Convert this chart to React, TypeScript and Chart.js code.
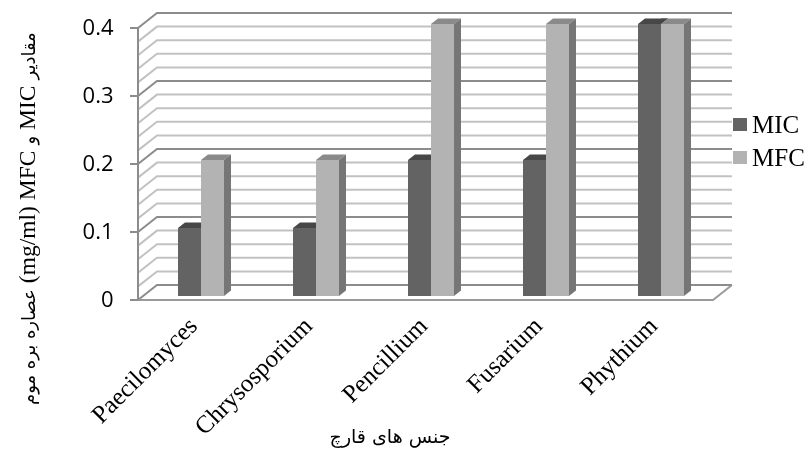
import React, { useEffect, useRef } from "react";
import { Chart, registerables } from "chart.js";

Chart.register(...registerables);

// ---- data ----
const categories = ["Paecilomyces", "Chrysosporium", "Pencillium", "Fusarium", "Phythium"];
const micValues = [0.1, 0.1, 0.2, 0.2, 0.4];
const mfcValues = [0.2, 0.2, 0.4, 0.4, 0.4];
const seriesNames = ["MIC", "MFC"];
const yTickValues = [0, 0.1, 0.2, 0.3, 0.4];
const yMinorStep = 0.02;
// y-axis title pieces, in visual order from bottom to top
const yTitleParts = ["عصاره بره موم", "(mg/ml) MFC", "و", "MIC", "مقادیر"];
const xTitle = "جنس های قارچ";

// ---- style ----
const MIC_FRONT = "#636363";
const MIC_TOP = "#474747";
const MIC_SIDE = "#4f4f4f";
const MFC_FRONT = "#b3b3b3";
const MFC_TOP = "#8a8a8a";
const MFC_SIDE = "#767676";
const MINOR_GRID = "#c2c2c2";
const MAJOR_GRID = "#8c8c8c";
const LATIN_FONT = '"Liberation Serif"';
const ARABIC_FONT = '"DejaVu Sans"';

// 3D offsets relative to the bar plane
const FDX = -5.5, FDY = 4; // front plane
const BDX = 13.5, BDY = -11; // back wall
const DX = 7, DY = -5.5; // bar depth

const isArabic = (s: string) => /[\u0600-\u06FF]/.test(s);

const threeD = {
  id: "threeD",
  beforeDatasetsDraw(chart: any) {
    const { ctx, chartArea } = chart;
    const { left, right } = chartArea;
    const y = chart.scales.y;
    const yMax = yTickValues[yTickValues.length - 1];
    const n = Math.round(yMax / yMinorStep);
    ctx.save();
    ctx.lineCap = "butt";
    for (const pass of [0, 1]) {
      for (let i = 0; i <= n; i++) {
        const v = i * yMinorStep;
        const major = yTickValues.some((t) => Math.abs(t - v) < 1e-9);
        if ((pass === 1) !== major) continue;
        const yy = y.getPixelForValue(v);
        ctx.strokeStyle = major ? MAJOR_GRID : MINOR_GRID;
        ctx.lineWidth = 2;
        ctx.beginPath();
        ctx.moveTo(left + FDX, yy + FDY);
        ctx.lineTo(left + BDX, yy + BDY);
        ctx.lineTo(right + BDX, yy + BDY);
        ctx.stroke();
      }
    }
    const y0 = y.getPixelForValue(0);
    const yTop = y.getPixelForValue(yMax);
    ctx.strokeStyle = "#9a9a9a";
    ctx.lineWidth = 2;
    ctx.beginPath();
    ctx.moveTo(left + FDX, y0 + FDY);
    ctx.lineTo(right + FDX, y0 + FDY);
    ctx.lineTo(right + BDX, y0 + BDY);
    ctx.stroke();
    ctx.strokeStyle = "#8c8c8c";
    ctx.beginPath();
    ctx.moveTo(left + FDX, yTop + FDY);
    ctx.lineTo(left + FDX, y0 + FDY);
    for (const t of yTickValues) {
      const yy = y.getPixelForValue(t);
      ctx.moveTo(left + FDX - 8, yy + FDY);
      ctx.lineTo(left + FDX, yy + FDY);
    }
    ctx.stroke();
    ctx.restore();
  },
  afterDatasetsDraw(chart: any) {
    const { ctx } = chart;
    const W = chart.width, H = chart.height;
    const m0 = chart.getDatasetMeta(0);
    const m1 = chart.getDatasetMeta(1);
    const top = (x1: number, x2: number, t: number, c: string) => {
      ctx.fillStyle = c;
      ctx.beginPath();
      ctx.moveTo(x1, t);
      ctx.lineTo(x2, t);
      ctx.lineTo(x2 + DX, t + DY);
      ctx.lineTo(x1 + DX, t + DY);
      ctx.closePath();
      ctx.fill();
    };
    const side = (x2: number, t: number, b: number, c: string) => {
      ctx.fillStyle = c;
      ctx.beginPath();
      ctx.moveTo(x2, t);
      ctx.lineTo(x2 + DX, t + DY);
      ctx.lineTo(x2 + DX, b + DY);
      ctx.lineTo(x2, b);
      ctx.closePath();
      ctx.fill();
    };
    for (let i = 0; i < m0.data.length; i++) {
      const a: any = m0.data[i];
      const b: any = m1.data[i];
      const ax1 = a.x - a.width / 2, ax2 = a.x + a.width / 2;
      const bx1 = b.x - b.width / 2, bx2 = b.x + b.width / 2;
      // MIC top & side, hidden where the MFC bar stands beside it
      ctx.save();
      ctx.beginPath();
      ctx.rect(0, 0, ax2, H);
      ctx.rect(ax2, 0, W, Math.min(b.y, a.y + 0.01));
      ctx.clip();
      top(ax1, ax2, a.y, MIC_TOP);
      if (a.y < b.y) side(ax2, a.y, a.base, MIC_SIDE);
      ctx.restore();
      if (Math.abs(b.y - a.y) < 0.5) {
        // equal heights: the back corner of the MIC top stays visible
        ctx.beginPath();
        ctx.moveTo(ax2, a.y);
        ctx.lineTo(ax2 + DX, a.y + DY);
        ctx.lineTo(ax2, a.y + DY);
        ctx.closePath();
        ctx.fillStyle = MIC_TOP;
        ctx.fill();
      }
      top(bx1, bx2, b.y, MFC_TOP);
      side(bx2, b.y, b.base, MFC_SIDE);
    }
  },
  afterDraw(chart: any) {
    const { ctx, chartArea } = chart;
    ctx.save();
    // legend
    const lx = chartArea.right + 14.5;
    const items = [
      { name: seriesNames[0], color: MIC_FRONT, cy: 125 },
      { name: seriesNames[1], color: MFC_FRONT, cy: 158 },
    ];
    ctx.font = `25px ${LATIN_FONT}`;
    ctx.textBaseline = "middle";
    ctx.textAlign = "left";
    for (const it of items) {
      ctx.fillStyle = it.color;
      ctx.fillRect(lx, it.cy - 7, 14, 13);
      ctx.fillStyle = "#000";
      ctx.fillText(it.name, lx + 19, it.cy + 1);
    }
    // y title, drawn bottom to top
    ctx.save();
    ctx.translate(29, 405);
    ctx.rotate(-Math.PI / 2);
    ctx.textAlign = "left";
    ctx.textBaseline = "middle";
    let x = 0;
    const space = 6;
    yTitleParts.forEach((p, k) => {
      const ar = isArabic(p);
      ctx.font = ar ? `18px ${ARABIC_FONT}` : `23.5px ${LATIN_FONT}`;
      ctx.fillText(p, x, ar ? 1 : 0);
      x += ctx.measureText(p).width + (k < yTitleParts.length - 1 ? space : 0);
    });
    ctx.restore();
    // x title
    ctx.textAlign = "center";
    ctx.textBaseline = "middle";
    ctx.font = `19px ${ARABIC_FONT}`;
    ctx.fillText(xTitle, 390, 438);
    ctx.restore();
  },
};

export default function App() {
  const ref = useRef<HTMLCanvasElement>(null);
  useEffect(() => {
    document.body.style.margin = "0";
    const canvas = ref.current!;
    const chart = new Chart(canvas, {
      type: "bar",
      data: {
        labels: categories,
        datasets: [
          { label: seriesNames[0], data: micValues, backgroundColor: MIC_FRONT, categoryPercentage: 0.4, barPercentage: 1.0, borderWidth: 0 },
          { label: seriesNames[1], data: mfcValues, backgroundColor: MFC_FRONT, categoryPercentage: 0.4, barPercentage: 1.0, borderWidth: 0 },
        ],
      },
      options: {
        responsive: false,
        animation: false,
        layout: { padding: { left: 0, right: 91.5, top: 24, bottom: 0 } },
        plugins: { legend: { display: false }, tooltip: { enabled: false } },
        scales: {
          x: {
            grid: { display: false, drawTicks: false },
            border: { display: false },
            ticks: {
              font: { family: LATIN_FONT, size: 25 },
              color: "#000",
              minRotation: 45,
              maxRotation: 45,
              autoSkip: false,
              padding: 16,
              labelOffset: -7,
            },
            afterFit: (s: any) => {
              s.height = 154;
              s.paddingLeft = 0;
              s.paddingRight = 0;
            },
          },
          y: {
            min: 0,
            max: 0.4,
            afterBuildTicks: (s: any) => {
              s.ticks = yTickValues.map((v) => ({ value: v }));
            },
            grid: { display: false, drawTicks: false },
            border: { display: false },
            ticks: {
              font: { family: '"Open Sans"', size: 22 },
              color: "#000",
              padding: 30,
              labelOffset: 5,
              callback: (v: any) => (v === 0 ? "0" : Number(v).toFixed(1)),
            },
            afterFit: (s: any) => {
              s.width = 143.5;
              s.paddingTop = 0;
              s.paddingBottom = 0;
            },
          },
        },
      },
      plugins: [threeD],
    });
    return () => chart.destroy();
  }, []);
  return (
    <div style={{ width: 810, height: 450, background: "#fff" }}>
      <canvas ref={ref} width={810} height={450} style={{ display: "block" }} />
    </div>
  );
}
